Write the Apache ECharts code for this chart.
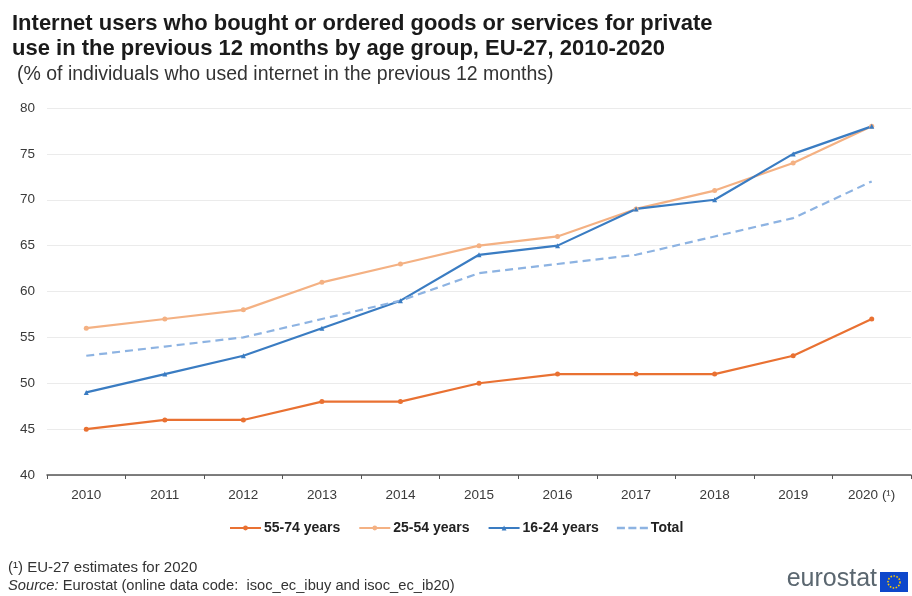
<!DOCTYPE html>
<html>
<head>
<meta charset="utf-8">
<script src="https://cdn.jsdelivr.net/npm/echarts@6/dist/echarts.min.js"></script>
<style>
  html, body { margin: 0; padding: 0; background: #ffffff; }
  #chart { width: 912px; height: 596px; }
</style>
</head>
<body>
<div id="chart"></div>
<script>
// Survey years shown on the category axis
const years = ['2010', '2011', '2012', '2013', '2014', '2015', '2016', '2017', '2018', '2019', '2020 (¹)'];

// Share of internet users who bought online, by age group (%)
const age55to74 = [45, 46, 46, 48, 48, 50, 51, 51, 51, 53, 57];
const age25to54 = [56, 57, 58, 61, 63, 65, 66, 69, 71, 74, 78];
const age16to24 = [49, 51, 53, 56, 59, 64, 65, 69, 70, 75, 78];
const totalAll  = [53, 54, 55, 57, 59, 62, 63, 64, 66, 68, 72];

const seriesNames = ['55-74 years', '25-54 years', '16-24 years', 'Total'];

const FONT = '"Liberation Sans", Arial, sans-serif';
const NARROW = '"Liberation Sans Narrow", "Liberation Sans", Arial, sans-serif';

const chart = echarts.init(document.getElementById('chart'), null, { renderer: 'canvas' });

function lineSeries(name, data, color, symbol, dashed) {
  return {
    name: name,
    type: 'line',
    data: data,
    symbol: symbol,
    symbolSize: 5,
    showSymbol: !dashed,
    lineStyle: { color: color, width: 2.2, type: dashed ? [8, 5] : 'solid' },
    itemStyle: { color: color },
    emphasis: { disabled: true },
    animation: false
  };
}

chart.setOption({
  backgroundColor: '#ffffff',
  animation: false,
  title: [
    {
      text: 'Internet users who bought or ordered goods or services for private\nuse in the previous 12 months by age group, EU-27, 2010-2020',
      left: 7, top: 6,
      textStyle: { fontFamily: FONT, fontSize: 22, fontWeight: 'bold', color: '#1a1a1a', lineHeight: 25 }
    },
    {
      text: '(% of individuals who used internet in the previous 12 months)',
      left: 12, top: 60,
      textStyle: { fontFamily: FONT, fontSize: 19.5, fontWeight: 'normal', color: '#333333' }
    }
  ],
  legend: {
    data: [
      { name: seriesNames[0] },
      { name: seriesNames[1] },
      { name: seriesNames[2] },
      { name: seriesNames[3], icon: 'path://M0,0h7v2h-7z M10,0h7v2h-7z M20,0h7v2h-7z' }
    ],
    bottom: 56,
    left: 224,
    itemWidth: 31,
    itemHeight: 6,
    itemGap: 18,
    textStyle: { fontFamily: FONT, fontSize: 14, fontWeight: 'bold', color: '#222222', padding: [0, 0, 0, -2] },
    selectedMode: false
  },
  grid: { left: 47, right: 1, top: 108, bottom: 121, containLabel: false },
  xAxis: {
    type: 'category',
    data: years,
    boundaryGap: true,
    axisLine: { lineStyle: { color: '#555555', width: 1.5 } },
    axisTick: { show: true, alignWithLabel: false, length: 4, lineStyle: { color: '#555555' } },
    axisLabel: { fontFamily: FONT, fontSize: 13.5, color: '#3a3a3a', margin: 13 }
  },
  yAxis: {
    type: 'value',
    min: 40, max: 80, interval: 5,
    axisLine: { show: false },
    axisTick: { show: false },
    axisLabel: { fontFamily: FONT, fontSize: 13.5, color: '#3a3a3a', margin: 12 },
    splitLine: { lineStyle: { color: '#ebebeb', width: 1 } }
  },
  series: [
    lineSeries(seriesNames[0], age55to74, '#e97132', 'circle', false),
    lineSeries(seriesNames[1], age25to54, '#f4b183', 'circle', false),
    lineSeries(seriesNames[2], age16to24, '#3a7cc2', 'triangle', false),
    lineSeries(seriesNames[3], totalAll, '#8db3e2', 'none', true)
  ],
  graphic: [
    {
      type: 'text', left: 8, top: 560,
      style: { text: '(¹) EU-27 estimates for 2020', font: '15px ' + NARROW, fill: '#333333' }
    },
    {
      type: 'text', left: 8, top: 578,
      style: {
        text: '{i|Source:} Eurostat (online data code:  isoc_ec_ibuy and isoc_ec_ib20)',
        font: '14.7px ' + NARROW, fill: '#333333',
        rich: { i: { fontStyle: 'italic', fontFamily: NARROW, fontSize: 14.7, fill: '#333333' } }
      }
    },
    {
      type: 'text', right: 35, top: 567,
      style: { text: 'eurostat', font: '25px "Liberation Sans", Arial, sans-serif', fill: '#5b6770' }
    },
    {
      type: 'group', right: 4, top: 572,
      children: [
        { type: 'rect', shape: { x: 0, y: 0, width: 28, height: 20 }, style: { fill: '#0e47cb' } },
        { type: 'circle', shape: { cx: 14, cy: 10, r: 6 }, style: { fill: 'none', stroke: '#ffcc00', lineWidth: 1.6, lineDash: [1.5, 1.5] } }
      ]
    }
  ]
});
</script>
</body>
</html>
